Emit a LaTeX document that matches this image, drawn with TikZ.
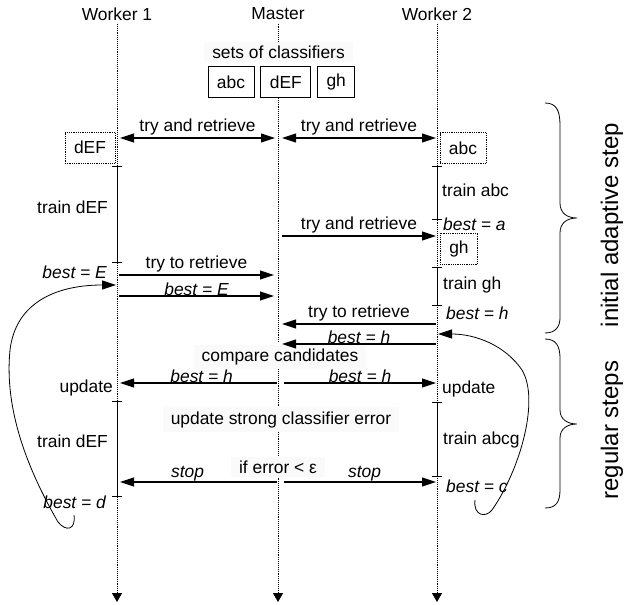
\documentclass[tikz,border=0pt]{standalone}
\usepackage{fontspec}
\setmainfont{Liberation Sans}
\usetikzlibrary{arrows.meta,positioning}
\newcommand{\bodysize}{\fontsize{17.4}{20}\selectfont}

\begin{document}
\begin{tikzpicture}[x=1pt,y=-1pt,>={Triangle[length=14pt,width=9pt]},font=\bodysize,
  life/.style={densely dotted,line width=0.9pt},
  lifeend/.style={life,-{Triangle[length=9pt,width=10pt]}},
  msg/.style={line width=1.1pt},
  clf/.style={draw,line width=0.8pt,minimum height=31pt,inner xsep=9pt,inner ysep=0pt},
  local/.style={clf,densely dotted},
  note/.style={fill=black!2,inner xsep=8pt,inner ysep=4pt},
  act/.style={line width=1pt,arrows={Bar[width=10pt]-Bar[width=10pt]}},
  lbl/.style={inner sep=2pt},
  tag/.style={inner sep=0pt},
  bst/.style={inner sep=0pt,font=\bodysize\itshape},
  side/.style={font=\fontsize{24}{28}\selectfont,rotate=90},
  loop/.style={line width=0.8pt,->}]
\useasboundingbox (0,0) rectangle (625,605);

% the three parties
\node (w1) at (117,14) {Worker 1};
\node (m) at (278,14) {Master};
\node (w2) at (437,14) {Worker 2};
\coordinate (w1end) at (117,602);
\coordinate (mend) at (278,602);
\coordinate (w2end) at (437,602);

% classifier sets kept by the master
\node[note] (sets) at (278.5,52) {sets of classifiers};
\node[clf] (abc) at (231,82) {abc};
\node[clf,right=6pt of abc] (dEFm) {dEF};
\node[clf,right=6pt of dEFm] (ghm) {gh};

\node[note] (cmp) at (280,357) {compare candidates};
\node[note] (upd) at (281,419.5) {update strong classifier error};
\node[note] (iferr) at (278,467) {if error < ε};
\coordinate (mstop) at (278,342);

% lifelines
\draw[lifeend] (w1) -- (w1end);
\draw[lifeend] (w2) -- (w2end);
\draw[life] (m) -- (m |- sets.north);
\draw[life] (m |- dEFm.south) -- (mstop);
\draw[life] (cmp.south -| m) -- (upd.north -| m);
\draw[life] (upd.south -| m) -- (iferr.north -| m);
\draw[lifeend] (iferr.south -| m) -- (mend);

% local copies on the workers
\node[local] (dEF1) at (90,147.5) {dEF};
\node[local] (abc2) at (463,148) {abc};
\node[local] (gh2) at (459,248.5) {gh};

% training periods
\coordinate (t1a) at (117,166); \coordinate (t1b) at (117,263);
\coordinate (t2a) at (437,166); \coordinate (t2b) at (437,220);
\coordinate (t3a) at (437,267); \coordinate (t3b) at (437,306);
\coordinate (t4a) at (117,401); \coordinate (t4b) at (117,497);
\coordinate (t5a) at (437,402); \coordinate (t5b) at (437,477);
\draw[act] (t1a) -- (t1b);
\draw[act] (t2a) -- (t2b);
\draw[act] (t3a) -- (t3b);
\draw[act] (t4a) -- (t4b);
\draw[act] (t5a) -- (t5b);

\node[tag,anchor=east] (tr1) at (108,207) {train dEF};
\node[bst,anchor=east] (bE) at (107,272) {best = E};
\node[tag,anchor=east] (up1) at (113,388) {update};
\node[tag,anchor=east] (tr4) at (108,441) {train dEF};
\node[bst,anchor=east] (bd) at (106,502) {best = d};
\node[tag,anchor=west] (tr2) at (442,190) {train abc};
\node[bst,anchor=west] (ba) at (443,224) {best = a};
\node[tag,anchor=west] (tr3) at (443,285) {train gh};
\node[bst,anchor=west] (bh) at (446,313) {best = h};
\node[tag,anchor=west] (up2) at (442,389) {update};
\node[tag,anchor=west] (tr5) at (443,440) {train abcg};
\node[bst,anchor=west] (bc) at (446,486) {best = c};

% messages
\coordinate (q1) at (120,138); \coordinate (q2) at (275,138);
\coordinate (q3) at (282,138); \coordinate (q4) at (436,138);
\coordinate (q5) at (282,236); \coordinate (q6) at (436,236);
\coordinate (r1) at (119,275); \coordinate (r2) at (274,275);
\coordinate (r3) at (119,296); \coordinate (r4) at (274,296);
\coordinate (r5) at (436,324); \coordinate (r6) at (282,324);
\coordinate (r7) at (436,344); \coordinate (r8) at (282,344);
\coordinate (s1) at (277,383); \coordinate (s2) at (120,383);
\coordinate (s3) at (284,383); \coordinate (s4) at (436,383);
\coordinate (s5) at (277,482); \coordinate (s6) at (120,482);
\coordinate (s7) at (284,482); \coordinate (s8) at (436,482);

\draw[msg,<->] (q1) -- node[lbl,above] {try and retrieve} (q2);
\draw[msg,<->] (q3) -- node[lbl,above] {try and retrieve} (q4);
\draw[msg,->] (q5) -- node[lbl,above] {try and retrieve} (q6);
\draw[msg,->] (r1) -- node[lbl,above] {try to retrieve} (r2);
\draw[msg,->] (r3) -- node[bst,above] {best = E} (r4);
\draw[msg,->] (r5) -- node[lbl,above] {try to retrieve} (r6);
\draw[msg,->] (r7) -- node[bst,above] {best = h} (r8);
\draw[msg,->] (s1) -- node[bst,above,pos=0.48] {best = h} (s2);
\draw[msg,->] (s3) -- node[bst,above,pos=0.5] {best = h} (s4);
\draw[msg,->] (s5) -- node[bst,above,pos=0.57] {stop} (s6);
\draw[msg,->] (s7) -- node[bst,above,pos=0.53] {stop} (s8);

% back to the next round
\coordinate (loopL) at (74,515); \coordinate (retL) at (116,285);
\coordinate (loopR) at (475,500); \coordinate (retR) at (438,334);
\draw[loop] (loopL) .. controls (76,530) and (66,532) .. (58,522)
  .. controls (28,470) and (4,410) .. (10,350) .. controls (16,300) and (60,285) .. (retL);
\draw[loop] (loopR) .. controls (473,516) and (486,518) .. (492,510)
  .. controls (520,470) and (540,400) .. (522,370) .. controls (505,345) and (475,334) .. (retR);

% phases
\draw[line width=0.8pt] (545,103) .. controls (556,103) and (560,110) .. (560,125) -- (560,203)
  .. controls (560,213) and (567,218) .. (577,218) .. controls (567,218) and (560,223) .. (560,233)
  -- (560,318) .. controls (560,326) and (556,333) .. (545,333);
\draw[line width=0.8pt] (545,339) .. controls (556,339) and (560,346) .. (560,358) -- (560,410)
  .. controls (560,419) and (567,424) .. (577,424) .. controls (567,424) and (560,429) .. (560,438)
  -- (560,490) .. controls (560,502) and (556,508) .. (545,508);
\node[side] (init) at (612,225) {initial adaptive step};
\node[side] (reg) at (612,430) {regular steps};
\end{tikzpicture}
\end{document}
